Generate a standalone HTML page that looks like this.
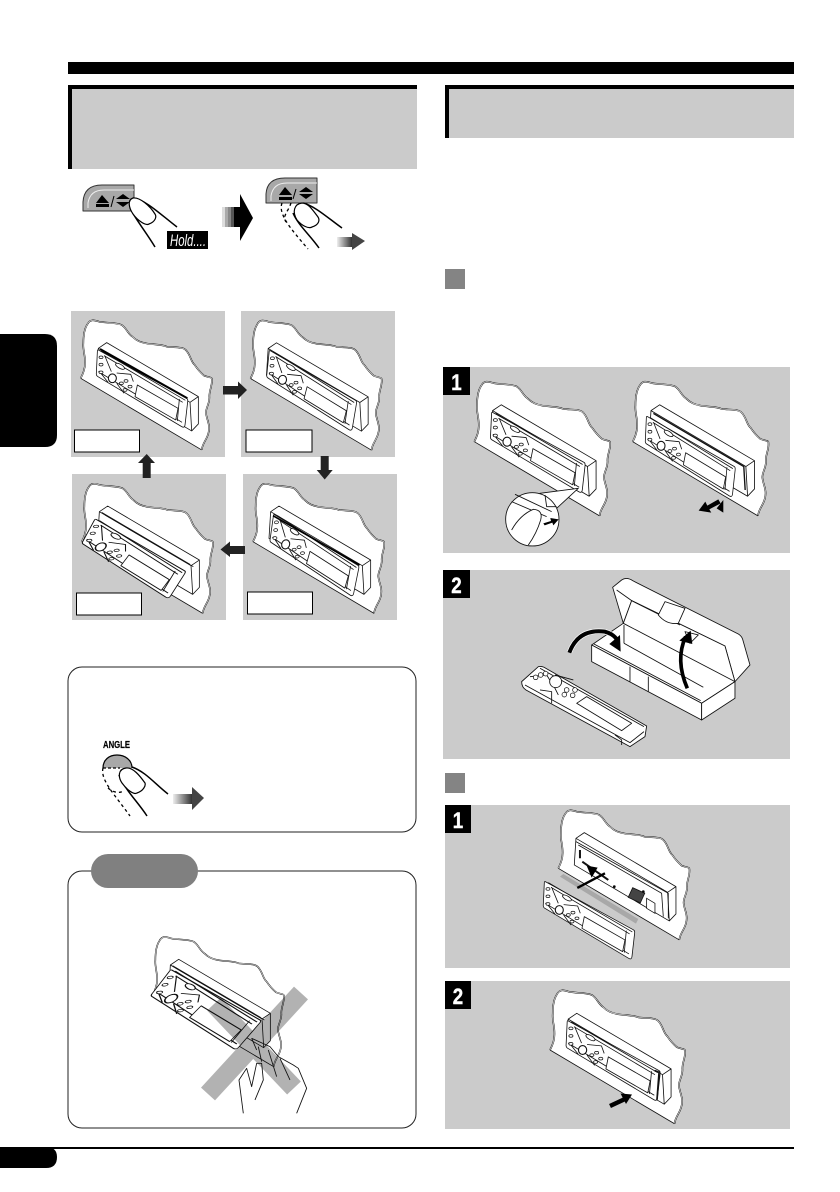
<!DOCTYPE html>
<html><head><meta charset="utf-8"><title>Diagram</title>
<style>html,body{margin:0;padding:0;background:#fff}svg{display:block}</style></head>
<body>
<svg xmlns="http://www.w3.org/2000/svg" width="840" height="1192" viewBox="0 0 840 1192">
<defs>
<linearGradient id="gr" x1="0" x2="1" y1="0" y2="0"><stop offset="0" stop-color="#eee"/><stop offset="1" stop-color="#333"/></linearGradient>
<g id="wall" stroke-linejoin="round">
  <path d="M0,0 C8,-15 13,-30 13,-45 C14,-70 6,-85 8,-105 C8,-130 12,-150 20,-162 C28,-178 40,-175 55,-170 C78,-165 105,-168 123,-160 C138,-150 140,-135 155,-125 C168,-112 180,-108 195,-105 C220,-100 240,-103 258,-95 C280,-92 305,-95 315,-85 C330,-70 330,-50 342,-40 C352,-25 362,-15 370,-8 C382,-3 392,-3 393,0 C397,20 385,35 386,55 C388,75 374,90 376,105 C378,125 390,140 383,165 C378,185 365,195 363,215 Z" fill="#fff" stroke="none"/>
  <path d="M0,0 C8,-15 13,-30 13,-45 C14,-70 6,-85 8,-105 C8,-130 12,-150 20,-162 C28,-178 40,-175 55,-170 C78,-165 105,-168 123,-160 C138,-150 140,-135 155,-125 C168,-112 180,-108 195,-105 C220,-100 240,-103 258,-95 C280,-92 305,-95 315,-85 C330,-70 330,-50 342,-40 C352,-25 362,-15 370,-8 C382,-3 392,-3 393,0 C397,20 385,35 386,55 C388,75 374,90 376,105 C378,125 390,140 383,165 C378,185 365,195 363,215" fill="none" stroke="#111" stroke-width="4.6"/>
  <path d="M0,0 C8,-15 13,-30 13,-45 C14,-70 6,-85 8,-105 C8,-130 12,-150 20,-162 C28,-178 40,-175 55,-170 C78,-165 105,-168 123,-160 C138,-150 140,-135 155,-125 C168,-112 180,-108 195,-105 C220,-100 240,-103 258,-95 C280,-92 305,-95 315,-85 C330,-70 330,-50 342,-40 C352,-25 362,-15 370,-8 C382,-3 392,-3 393,0 C397,20 385,35 386,55 C388,75 374,90 376,105 C378,125 390,140 383,165 C378,185 365,195 363,215" fill="none" stroke="#fff" stroke-width="1.8"/>
  <path d="M0,0 L363,215" stroke="#111" stroke-width="2.4" fill="none"/>
</g>
<g id="house" fill="#fff" stroke="#111" stroke-width="2.4" stroke-linejoin="round">
  <path d="M78,-107 L353,55 L353,137 L333,158 L48,-10 L53,-90 Z"/>
  <path d="M53,-90 L328,72 L353,55 M328,72 L333,158" fill="none"/>
</g>
<g id="plate" fill="#fff" stroke="#111" stroke-width="2.4" stroke-linejoin="round">
  <path d="M53,-85 L318,60 Q322,62 321,70 L313,140 Q312,150 303,145 L50,-6 Q46,-9 47,-16 L50,-80 Q50,-87 53,-85 Z"/>
  <path d="M62,-82 L314,66 M70,-68 L306,72 M53,-20 L304,132 M296,62 L290,128 M72,-68 L92,-20 M108,-16 L150,-12 L158,10 M108,15 L130,45 M82,12 L55,-22" fill="none"/>
  <path d="M170,20 L163,55 L285,125 L292,90 Z"/>
  <ellipse cx="118" cy="-36" rx="15" ry="6" transform="rotate(30 118 -36)"/>
  <ellipse cx="95" cy="0" rx="12" ry="13" stroke-width="3.2"/>
  <g stroke-width="2.2">
  <ellipse cx="61" cy="-63" rx="6" ry="4"/><ellipse cx="61" cy="-41" rx="6" ry="4"/><ellipse cx="61" cy="-18" rx="6" ry="4"/>
  <ellipse cx="136" cy="8" rx="6" ry="4"/><ellipse cx="122" cy="15" rx="6" ry="4"/><ellipse cx="148" cy="25" rx="6" ry="4"/><ellipse cx="133" cy="35" rx="6" ry="4"/>
  </g>
</g>
</defs>

<!-- header -->
<rect x="68" y="62" width="726" height="12" fill="#000"/>
<rect x="68" y="85" width="349" height="84" fill="#000"/><rect x="72" y="89" width="345" height="80" fill="#cbcbcb"/>
<rect x="445" y="85" width="349" height="53" fill="#000"/><rect x="449" y="89" width="345" height="49" fill="#cbcbcb"/>
<rect x="445" y="269" width="20" height="20" fill="#848484"/>
<rect x="445" y="773" width="20" height="20" fill="#848484"/>

<!-- side tab and footer -->
<path d="M0,334 H45 Q57,334 57,346 V435 Q57,447 45,447 H0 Z" fill="#000"/>
<rect x="0" y="1147" width="794" height="2" fill="#000"/>
<path d="M0,1147 H46 Q57,1147 57,1157 Q57,1168 46,1168 H0 Z" fill="#000"/>

<!-- hold graphics -->
<g stroke="#000" fill="none" stroke-linejoin="round">
  <path d="M83,211 V202 Q84,185 102,185 H134 V211 Z" fill="#a8a8a8" stroke="#333" stroke-width="1"/>
  <path d="M88,208 V203 Q90,190 104,190 H134" stroke="#eee" stroke-width="1"/>
  <path d="M96,203 L102,195 L109,203 Z M96,204 H109 V207 H96 Z" fill="#000" stroke="none"/>
  <path d="M111,207 L114,196" stroke-width="1"/>
  <path d="M116,199 L123,194 L130,199 Z M116,202 L130,202 L123,207 Z" fill="#000" stroke="none"/>
  <path d="M133,198 C146,200 160,214 177,227" stroke-width="1.5" />
  <path d="M130,208 C136,220 146,232 155,247" stroke-width="1.5"/>
  <path d="M133,198 C127,200 129,208 133,214 C138,221 146,226 149,224 C155,222 157,217 155,214 C150,206 140,197 133,198 Z" fill="#fff" stroke-width="1.2"/>
</g>
<rect x="167" y="231" width="41" height="18" fill="#000"/>
<text x="170" y="246" font-family="'Liberation Sans',sans-serif" font-size="17" font-style="italic" fill="#fff" textLength="36" lengthAdjust="spacingAndGlyphs">Hold....</text>
<rect x="222" y="207" width="3" height="20" fill="#ddd"/><rect x="225" y="207" width="3" height="20" fill="#aaa"/><rect x="228" y="207" width="3" height="20" fill="#888"/><rect x="231" y="207" width="3" height="20" fill="#555"/><rect x="234" y="207" width="6" height="20" fill="#000"/>
<path d="M240,194 L253,218 L240,241 Z" fill="#000"/>

<g stroke="#000" fill="none" stroke-linejoin="round">
  <path d="M266,203 V194 Q267,178 285,178 H317 V203 Z" fill="#a8a8a8" stroke="#333" stroke-width="1"/>
  <path d="M271,201 V196 Q273,183 287,183 H317" stroke="#eee" stroke-width="1"/>
  <path d="M279,195 L285,187 L292,195 Z M279,197 H292 V200 H279 Z" fill="#000" stroke="none"/>
  <path d="M293,199 L296,189" stroke-width="1"/>
  <path d="M299,192 L306,187 L313,192 Z M299,194 L313,194 L306,199 Z" fill="#000" stroke="none"/>
  <path d="M282,203 C278,214 290,228 308,249 M291,203 C288,212 282,216 286,222" stroke-width="1.3" stroke-dasharray="3 3"/>
  <path d="M303,203 C315,206 328,218 342,228" stroke-width="1.5"/>
  <path d="M293,213 C298,225 310,235 319,248" stroke-width="1.5"/>
  <path d="M302,203 C294,204 292,212 297,220 C302,226 309,229 312,227 C319,225 320,220 318,217 C312,209 308,203 302,203 Z" fill="#fff" stroke-width="1.2"/>
</g>
<rect x="337" y="237" width="15" height="10" fill="url(#gr)"/><path d="M352,233 L365,241 L352,250 Z" fill="#444"/>

<!-- four state panels -->
<rect x="71" y="311" width="154" height="146" fill="#cbcbcb"/>
<rect x="241" y="311" width="154" height="146" fill="#cbcbcb"/>
<rect x="72" y="474" width="154" height="146" fill="#cbcbcb"/>
<rect x="243" y="474" width="154" height="146" fill="#cbcbcb"/>

<g transform="translate(80.7,378.3) scale(.3333)">
  <use href="#wall"/><use href="#house"/><use href="#plate"/>
  <path d="M58,-88 L320,60" stroke="#000" stroke-width="6" fill="none"/>
</g>
<g transform="translate(250.5,378.5) scale(.3333)">
  <use href="#wall"/><use href="#house"/>
  <use href="#plate" transform="matrix(1,0,-.06,1.03,1,4)"/>
</g>
<g transform="translate(253,541.7) scale(.3333)">
  <use href="#wall"/><use href="#house"/>
  <use href="#plate" transform="matrix(1,0,-.1,1.05,3,8)"/>
  <path d="M60,-78 L320,70" stroke="#000" stroke-width="5" fill="none"/>
</g>
<g transform="translate(81.7,541.7) scale(.3333)">
  <use href="#wall"/><use href="#house"/>
  <path d="M60,-88 L325,68 M70,-80 L335,75" stroke="#111" stroke-width="2.4"/>
  <use href="#plate" transform="matrix(1.25,.07,-.45,.938,-61.5,9)"/>
</g>
<g fill="#fff" stroke="#000" stroke-width="1">
  <rect x="74.5" y="430" width="65" height="22"/><rect x="246" y="430" width="66" height="22"/>
  <rect x="76.5" y="593" width="65" height="22"/><rect x="247.5" y="592" width="65" height="22"/>
</g>
<g fill="#222">
  <path d="M223,386 H238 V381.5 L247,390 L238,399 V394.5 H223 Z"/>
  <path d="M320.7,456 H328.7 V470 H332.7 L324.7,479.5 L316.7,470 H320.7 Z"/>
  <path d="M245,546 H230 V541.5 L220.5,549.5 L230,557 V554 H245 Z"/>
  <path d="M142.7,478 V463 H138 L146.7,454 L155,463 H150.7 V478 Z"/>
</g>

<!-- angle box -->
<rect x="68" y="667" width="348" height="165" rx="14" fill="#fff" stroke="#222" stroke-width="1"/>
<text x="103" y="748" font-family="'Liberation Sans',sans-serif" font-size="10" font-weight="700" fill="#000" stroke="#000" stroke-width=".2" textLength="27" lengthAdjust="spacingAndGlyphs">ANGLE</text>
<g stroke="#000" fill="none" stroke-linejoin="round">
  <path d="M103,768 C103,760 109,755 117,755 C125,755 132,760 132,768 Z" fill="#a8a8a8" stroke="none"/>
  <path d="M103,768 C103,760 109,755 117,755 C125,755 132,760 132,768" stroke-width="1.2"/>
  <path d="M103,768 H120" stroke-width="1.2" stroke-dasharray="3 2"/>
  <path d="M103,768 C100,780 115,795 130,816 M108,788 C115,794 122,793 124,790" stroke-width="1.3" stroke-dasharray="3 3"/>
  <path d="M132,767 C146,772 155,784 168,794" stroke-width="1.5"/>
  <path d="M119,775 C125,790 138,802 147,816" stroke-width="1.5"/>
  <path d="M126,768 C118,769 118,777 122,783 C127,790 134,795 137,793 C143,791 146,786 145,783 C140,776 133,767 126,768 Z" fill="#fff" stroke-width="1.2"/>
</g>
<rect x="173" y="794" width="19" height="10" fill="url(#gr)"/><path d="M192,787 L204,798 L192,810 Z" fill="#444"/>

<!-- caution box -->
<rect x="68" y="871" width="348" height="257" rx="14" fill="#fff" stroke="#222" stroke-width="1"/>
<rect x="91" y="854" width="107" height="34" rx="17" fill="#808080"/>
<g transform="translate(152.7,995) scale(.3333)">
  <use href="#wall"/><use href="#house"/>
  <path d="M60,-88 L325,68 M70,-80 L335,75" stroke="#111" stroke-width="2.4"/>
  <use href="#plate" transform="matrix(1.39,.02,-.7075,1,-76.8,9)"/>
</g>
<g style="mix-blend-mode:multiply" stroke="#b2b2b2" stroke-width="19" fill="none">
  <path d="M214,1004 L294,1088"/><path d="M301,993 L208,1094"/>
</g>
<g transform="translate(60,850) scale(.3333)" fill="none" stroke="#111" stroke-width="2.6" stroke-linejoin="round">
  <path d="M575,565 L630,590 L655,620 L700,645 L715,655 L740,715 L710,790" />
  <path d="M595,590 L605,635 M625,600 L650,680 M660,625 L690,690 M575,565 L590,600"/>
  <path d="M550,790 L537,690 L560,655 L575,710 L590,640 L605,640 L610,690 L585,750"/>
</g>

<!-- right column -->
<rect x="443" y="367" width="347" height="186" fill="#cbcbcb"/>
<rect x="443" y="570" width="347" height="189" fill="#cbcbcb"/>
<rect x="445" y="805" width="345" height="163" fill="#cbcbcb"/>
<rect x="445" y="981" width="345" height="148" fill="#cbcbcb"/>
<g fill="#000">
  <rect x="443" y="367" width="27" height="28"/><rect x="443" y="570" width="27" height="28"/>
  <rect x="445" y="805" width="26" height="28"/><rect x="445" y="981" width="26" height="28"/>
</g>
<g font-family="'Liberation Sans',sans-serif" font-size="22" font-weight="700" fill="#fff" stroke="#fff" stroke-width=".4" text-anchor="middle">
  <text transform="translate(456.5,390) scale(.85,1)">1</text>
  <text transform="translate(456.5,593) scale(.85,1)">2</text>
  <text transform="translate(458,828) scale(.85,1)">1</text>
  <text transform="translate(458,1004) scale(.85,1)">2</text>
</g>

<g transform="translate(474.3,441.7) scale(.345)">
  <use href="#wall"/><use href="#house"/><use href="#plate"/>
</g>
<g transform="translate(440,360) scale(.3333)" stroke="#111" stroke-width="2.6" fill="#fff" stroke-linejoin="round">
  <path d="M300,400 L415,385 L350,445 Z"/>
  <circle cx="277" cy="478" r="80"/>
  <path d="M225,403 L335,455 M315,405 L320,440 L350,440 M215,425 L320,470" fill="none"/>
  <path d="M215,510 Q240,465 280,448 Q310,450 302,480 Q290,520 265,555" />
  <path d="M310,490 L333,483 L331,474 L356,478 L340,496 L337,488 L314,496 Z" fill="#000" stroke="none"/>
</g>
<g transform="translate(632.7,441.7) scale(.345)">
  <use href="#wall"/><use href="#house"/>
  <path d="M60,-82 L322,72 L326,140" fill="none" stroke="#111" stroke-width="4"/>
  <use href="#plate" transform="translate(-8,12) scale(.95,1)"/>
</g>
<g transform="translate(440,360) scale(.3333)" fill="#000">
  <path d="M776,452 L796,425 L802,437 L835,418 L842,430 L808,448 L814,458 Z"/>
  <path d="M850,420 L850,458 L830,445 Z"/>
</g>

<!-- case -->
<g transform="translate(440,360) scale(.3333)" fill="#fff" stroke="#111" stroke-width="2.6" stroke-linejoin="round">
  <path d="M518,682 L545,660 Q560,650 578,662 L895,822 Q905,828 908,838 L930,915 L885,965 L855,858 L575,722 L550,790 Z"/>
  <path d="M550,790 L575,722 L855,858 L885,965 L785,1030 L455,855 Z"/>
  <path d="M455,855 L785,1030 L785,1080 L455,905 Z"/>
  <path d="M785,1030 L885,965 L885,1015 L785,1080 Z"/>
  <path d="M550,790 L885,965 M552,795 L552,850 M552,850 L790,982 M462,852 L782,1022 M570,920 V965 M625,950 V995 M575,722 L720,795 M530,690 L575,722" fill="none"/>
  <path d="M655,765 L675,725 L735,745 L715,790 Q680,795 655,765 Z"/>
  <path d="M735,815 L775,825 L750,850 Z"/>
  <path d="M388,878 Q415,805 495,815 Q520,822 530,838" fill="none" stroke="#fff" stroke-width="16"/>
  <path d="M388,878 Q415,805 495,815 Q520,822 530,838" fill="none" stroke="#000" stroke-width="12"/>
  <path d="M508,852 L540,825 L542,875 Z" fill="#000" stroke="none"/>
  <path d="M742,985 Q705,900 737,830" fill="none" stroke="#000" stroke-width="11"/>
  <path d="M718,842 L752,812 L757,852 Z" fill="#000" stroke="none"/>
  <!-- remote -->
  <path d="M245,965 L295,920 Q305,918 312,922 L620,1098 L615,1130 L570,1160 L258,990 Q245,982 245,965 Z"/>
  <path d="M255,975 L570,1148 L612,1115 M300,925 L612,1100 M300,990 L335,995 L335,1030 M525,1125 L545,1140 L545,1155" fill="none"/>
  <path d="M410,1030 L440,1010 L575,1090 L545,1112 Z"/>
  <path d="M270,950 L320,945 L345,985 L355,1005 M400,960 L345,945" fill="none"/>
  <circle cx="347" cy="965" r="18"/>
  <g stroke-width="2.2"><circle cx="287" cy="952" r="7"/><circle cx="302" cy="945" r="7"/><circle cx="317" cy="941" r="7"/><circle cx="380" cy="990" r="7"/><circle cx="405" cy="990" r="7"/><circle cx="373" cy="1004" r="7"/><circle cx="398" cy="1006" r="7"/></g>
</g>

<!-- attach 1 -->
<g transform="translate(558.3,868.3) scale(.3333)">
  <use href="#wall"/>
  <use href="#house"/>
  <g fill="none" stroke="#111" stroke-width="2.4">
    <path d="M53,-80 L330,75 L330,150 M60,-70 L310,75 L315,145"/>
    <path d="M65,-55 L65,-30 M72,-20 L150,35" stroke-width="6"/>
    <rect x="215" y="65" width="40" height="32" fill="#444" transform="rotate(25 235 80)"/>
    <path d="M265,90 L290,105 L290,135 L265,120 Z" fill="#fff"/>
    <circle cx="168" cy="55" r="3" fill="#000"/><circle cx="255" cy="70" r="3" fill="#000"/>
  </g>
  <path d="M5,25 L15,17 L240,152 L233,166 Z" fill="#a8a8a8"/>
  <use href="#plate" transform="translate(-92,125)"/>
  <path d="M57,59 L140,15" stroke="#000" stroke-width="7"/>
  <path d="M85,-8 L118,-2 L100,28 Z" fill="#000"/>
</g>

<!-- attach 2 -->
<g transform="translate(550,1050) scale(.343)">
  <use href="#wall"/><use href="#house"/><use href="#plate"/>
  <path d="M305,60 L318,65 L312,145" fill="none" stroke="#111" stroke-width="5"/>
</g>
<path d="M610,1106 L625,1099" stroke="#000" stroke-width="4.5"/>
<path d="M632,1094.5 L620.5,1093.5 L626,1104 Z" fill="#000"/>
</svg>
</body></html>
